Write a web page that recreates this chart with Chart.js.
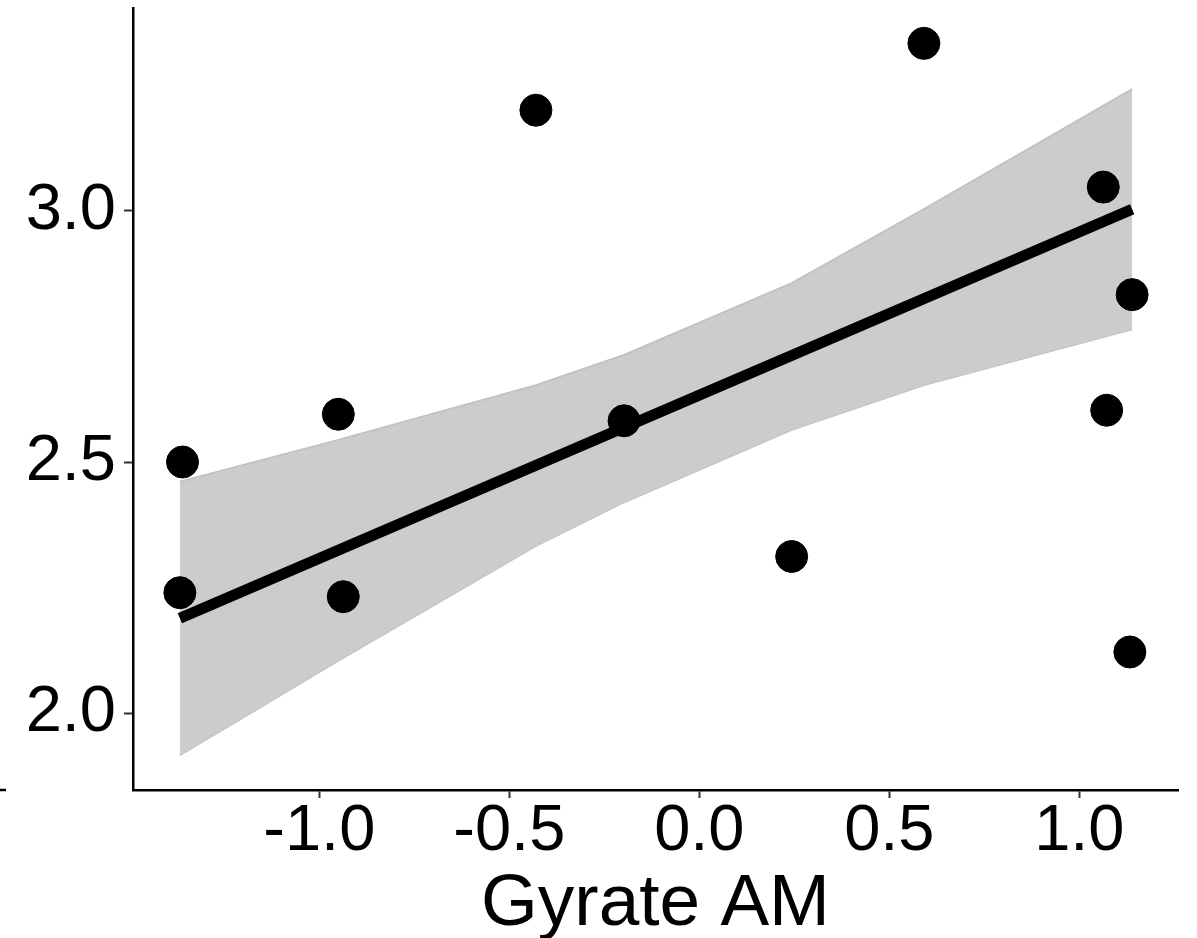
<!DOCTYPE html>
<html lang="en">
<head>
  <meta charset="UTF-8" />
  <title>Gyrate AM</title>
  <script src="https://cdn.jsdelivr.net/npm/chart.js"></script>
  <style>
    body { margin: 0; background: #fff; }
    #wrap { width: 1197px; height: 938px; }
  </style>
</head>
<body>
  <div id="wrap"><canvas id="plot" width="1197" height="938"></canvas></div>

  <script>
    // observed points
    const gyrateX = [-1.36, -1.367, -0.95, -0.937, -0.43, -0.198, 0.243, 0.591, 1.063, 1.139, 1.072, 1.133];
    const valueY  = [2.50, 2.240, 2.595, 2.232, 3.20, 2.582, 2.312, 3.333, 3.047, 2.833, 2.603, 2.122];

    // fitted line
    const fitX = [-1.367, 1.139];
    const fitY = [2.189, 3.003];

    // confidence ribbon
    const bandX    = [-1.367, -0.95, -0.43, -0.198, 0.243, 0.591, 1.139];
    const bandLow  = [1.917, 2.105, 2.333, 2.420, 2.564, 2.653, 2.764];
    const bandHigh = [2.461, 2.544, 2.653, 2.713, 2.856, 3.003, 3.242];

    const xTicks = [-1.0, -0.5, 0.0, 0.5, 1.0];
    const yTicks = [2.0, 2.5, 3.0];

    const pts = (xs, ys) => xs.map((x, i) => ({ x: x, y: ys[i] }));

    const edgeStub = {
      id: 'edgeStub',
      afterDraw(chart) {
        const c = chart.ctx;
        const y = chart.chartArea.bottom;
        c.save();
        c.strokeStyle = '#000';
        c.lineWidth = 2.5;
        c.beginPath();
        c.moveTo(0, y);
        c.lineTo(6, y);
        c.stroke();
        c.restore();
      }
    };

    new Chart(document.getElementById('plot'), {
      type: 'scatter',
      data: {
        datasets: [
          {
            label: 'points',
            data: pts(gyrateX, valueY),
            backgroundColor: '#000',
            borderColor: '#000',
            pointRadius: 16,
            order: 0
          },
          {
            type: 'line',
            label: 'fit',
            data: pts(fitX, fitY),
            borderColor: '#000',
            borderWidth: 11,
            borderCapStyle: 'butt',
            pointRadius: 0,
            fill: false,
            order: 1
          },
          {
            type: 'line',
            label: 'low',
            data: pts(bandX, bandLow),
            borderColor: '#c2c2c2',
            borderWidth: 2,
            pointRadius: 0,
            fill: false,
            order: 3
          },
          {
            type: 'line',
            label: 'high',
            data: pts(bandX, bandHigh),
            borderColor: '#c2c2c2',
            backgroundColor: '#cccccc',
            borderWidth: 2,
            pointRadius: 0,
            fill: '-1',
            order: 2
          }
        ]
      },
      options: {
        responsive: false,
        animation: false,
        layout: { autoPadding: false, padding: { top: 8, right: 19, left: 0, bottom: 0 } },
        plugins: {
          legend: { display: false },
          tooltip: { enabled: false }
        },
        scales: {
          x: {
            type: 'linear',
            min: -1.4903,
            max: 1.2597,
            afterBuildTicks: s => { s.ticks = xTicks.map(v => ({ value: v })); },
            afterFit: s => { s.height = 148; s.paddingLeft = 0; s.paddingRight = 0; },
            ticks: {
              color: '#000',
              font: { family: 'Liberation Sans', size: 65 },
              padding: -5,
              maxRotation: 0,
              callback: v => v.toFixed(1)
            },
            grid: {
              display: true,
              drawOnChartArea: false,
              drawTicks: true,
              tickLength: 8,
              tickColor: '#333',
              tickWidth: 2
            },
            border: { display: true, color: '#000', width: 2.5 },
            title: {
              display: true,
              text: 'Gyrate AM',
              color: '#000',
              font: { family: 'Liberation Sans', size: 73 },
              padding: { top: 0, bottom: -11 }
            }
          },
          y: {
            type: 'linear',
            min: 1.8474,
            max: 3.4033,
            afterBuildTicks: s => { s.ticks = yTicks.map(v => ({ value: v })); },
            afterFit: s => { s.width = 133; s.paddingTop = 0; s.paddingBottom = 0; },
            ticks: {
              color: '#000',
              font: { family: 'Liberation Sans', size: 65 },
              padding: 8,
              callback: v => v.toFixed(1)
            },
            grid: {
              display: true,
              drawOnChartArea: false,
              drawTicks: true,
              tickLength: 9,
              tickColor: '#333',
              tickWidth: 2
            },
            border: { display: true, color: '#000', width: 2.5 }
          }
        }
      },
      plugins: [edgeStub]
    });
  </script>
</body>
</html>
